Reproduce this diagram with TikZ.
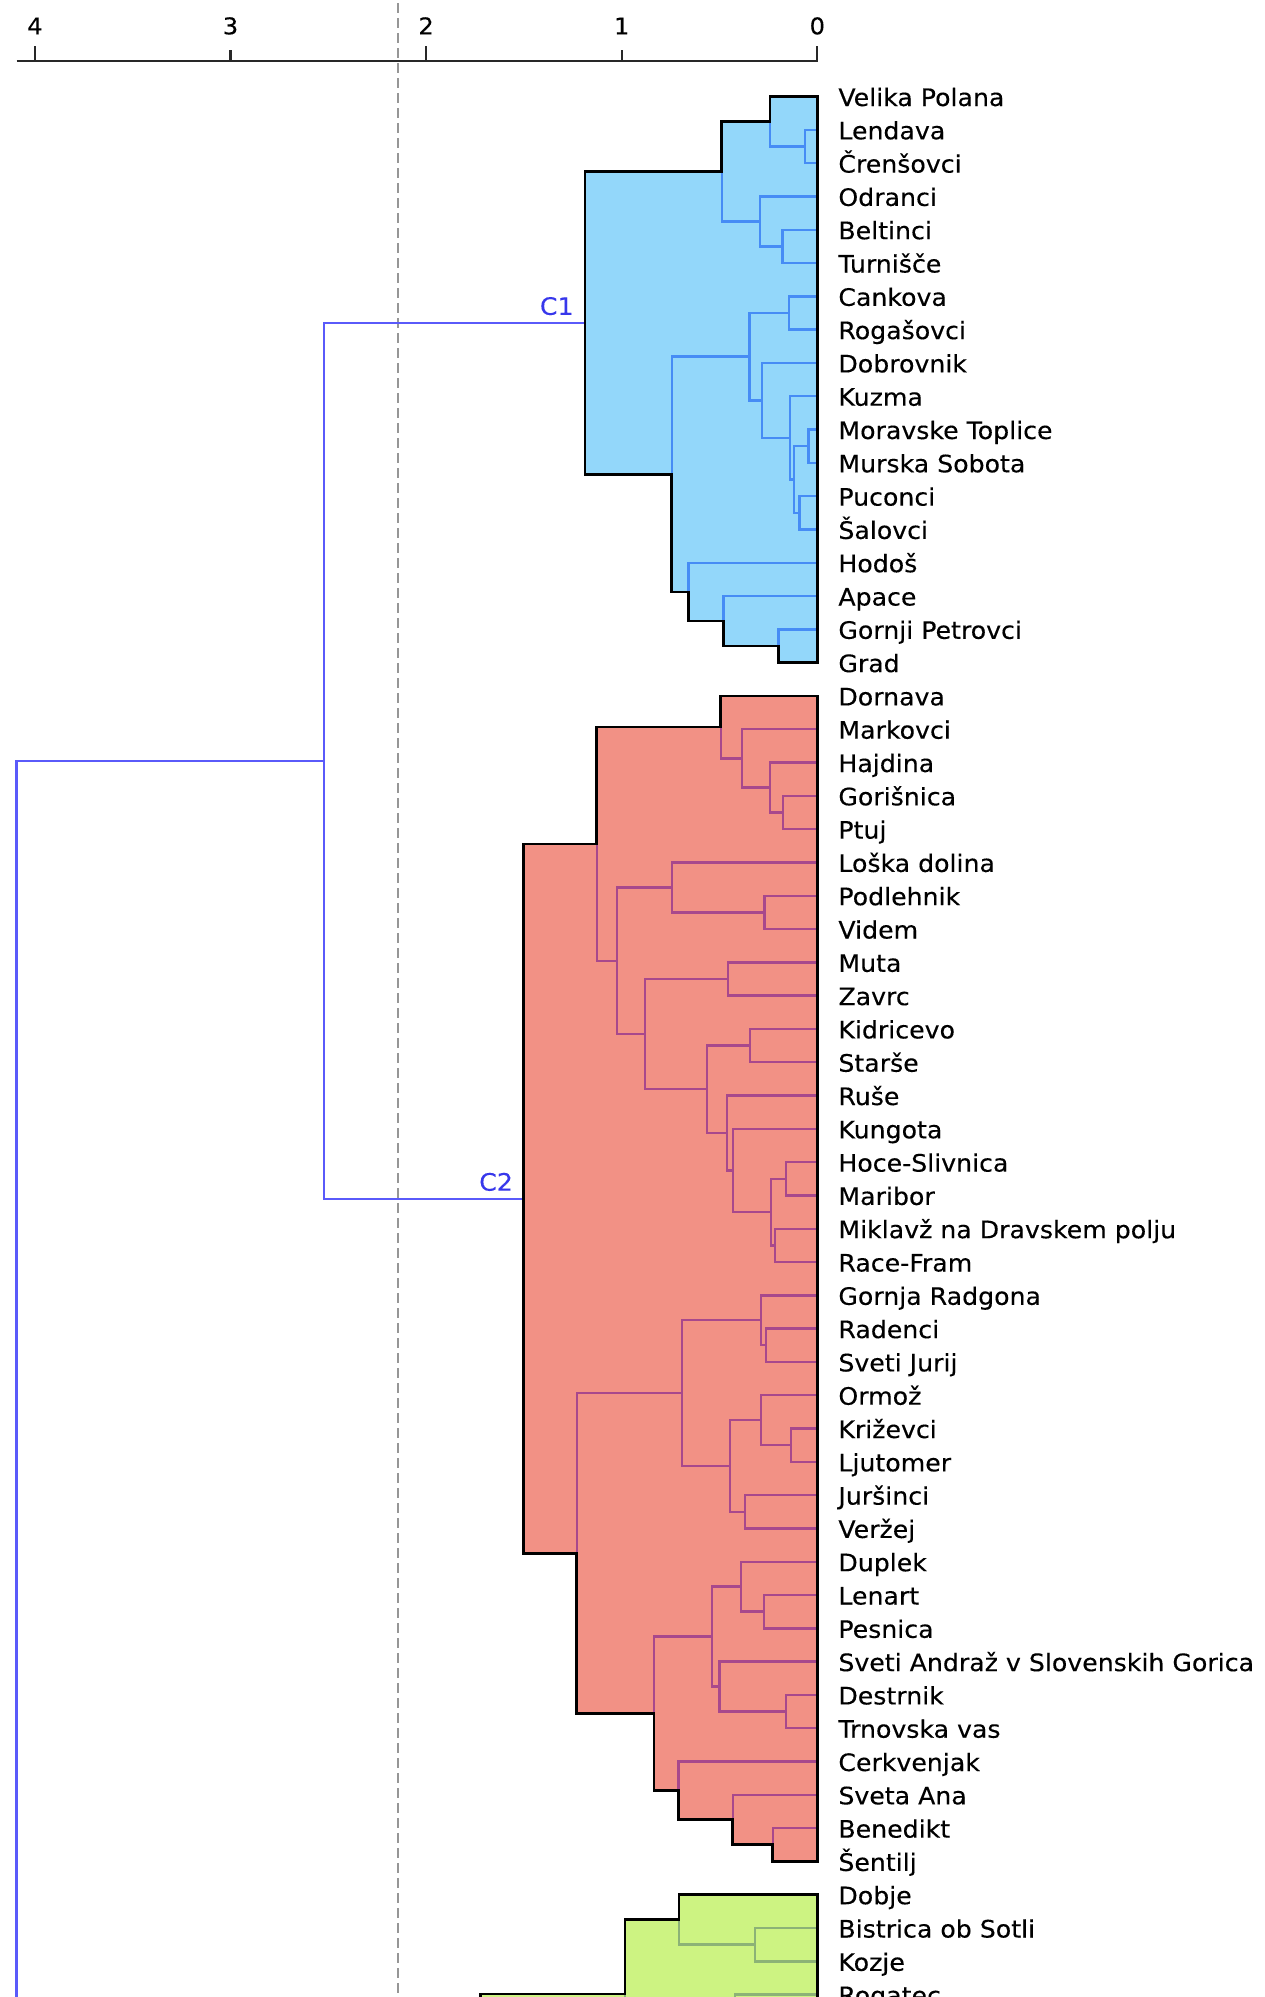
\documentclass[tikz,border=0pt]{standalone}
\usepackage{fontspec}
\setmainfont{DejaVu Sans}[FakeStretch=1.05,FakeBold=0.25]
\usetikzlibrary{calc}
\pgfdeclarelayer{bg}\pgfdeclarelayer{fg}
\pgfsetlayers{bg,main,fg}
\definecolor{bfill}{RGB}{147,215,250}
\definecolor{bline}{RGB}{70,140,245}
\definecolor{rfill}{RGB}{242,145,133}
\definecolor{rline}{RGB}{168,72,140}
\definecolor{gfill}{RGB}{205,243,130}
\definecolor{gline}{RGB}{140,178,118}
\definecolor{linkc}{RGB}{90,90,250}
\definecolor{labc}{RGB}{55,55,235}
\definecolor{axc}{RGB}{40,40,40}
\definecolor{dashc}{RGB}{150,150,150}
\newcommand\mrg[4]{%
  \coordinate (mtmp) at ($(#3)!.5!(#4)$);
  \coordinate (#1) at (#2,0 |- mtmp);
  \draw[lk] (#3) -| (#1) |- (#4);}
\begin{document}
\begin{tikzpicture}[x=0.5pt,y=-0.5pt,
  lk/.style={draw=bline,line width=1.2pt},
  ol/.style={draw=black,line width=1.3pt,line join=miter},
  lbl/.style={anchor=base west,inner sep=0pt,font=\fontsize{12}{14}\selectfont},
  axlbl/.style={anchor=base,inner sep=0pt,font=\fontsize{11.5}{13}\selectfont},
  clab/.style={anchor=base east,inner sep=0pt,text=labc,font=\fontsize{12}{14}\selectfont},
  axis/.style={draw=axc,line width=1.1pt},
  cut/.style={draw=dashc,line width=1.1pt,dash pattern=on 5pt off 2.5pt}]
\useasboundingbox (0,0) rectangle (1264,1997);
\clip (0,0) rectangle (1264,1997);

% axis
\coordinate (ax0) at (16.7,60.7);
\coordinate (ax1) at (817.5,60.7);
\draw[axis] (ax0) -- (ax1);
\foreach \d/\tl in {0/46,1/50,2/46,3/50,4/46}{
  \coordinate (tk\d) at ({817.3-195.6*\d},60.7);
  \coordinate (tt\d) at ({817.3-195.6*\d},\tl);
  \draw[axis] (tk\d) -- (tt\d);
  \node[axlbl] (al\d) at ({817.3-195.6*\d},34.3) {\d};
}
% cut line
\coordinate (dtop) at (398,3);
\coordinate (dbot) at (398,2000);
\draw[cut] (dtop) -- (dbot);

% leaves and labels
\foreach \i in {0,...,57}{\coordinate (L\i) at (817.5,{96.5+33.3*\i});}
\foreach \t [count=\i from 0] in {Velika Polana,Lendava,Črenšovci,Odranci,Beltinci,Turnišče,Cankova,Rogašovci,Dobrovnik,Kuzma,Moravske Toplice,Murska Sobota,Puconci,Šalovci,Hodoš,Apace,Gornji Petrovci,Grad,Dornava,Markovci,Hajdina,Gorišnica,Ptuj,Loška dolina,Podlehnik,Videm,Muta,Zavrc,Kidricevo,Starše,Ruše,Kungota,Hoce-Slivnica,Maribor,Miklavž na Dravskem polju,Race-Fram,Gornja Radgona,Radenci,Sveti Jurij,Ormož,Križevci,Ljutomer,Juršinci,Veržej,Duplek,Lenart,Pesnica,Sveti Andraž v Slovenskih Gorica,Destrnik,Trnovska vas,Cerkvenjak,Sveta Ana,Benedikt,Šentilj,Dobje,Bistrica ob Sotli,Kozje,Rogatec}{
  \node[lbl] (T\i) at (838,{96.5+33.3*\i+9.5}) {\t};
}

% ---- cluster C1 (blue)
\begin{scope}[lk/.style={draw=bline,line width=1.2pt}]
\mrg{A1b}{805}{L1}{L2}
\mrg{A1}{770}{L0}{A1b}
\mrg{A2b}{782.3}{L4}{L5}
\mrg{A2}{760}{L3}{A2b}
\mrg{A}{721.7}{A1}{A2}
\mrg{B1a}{788.7}{L6}{L7}
\mrg{B1e}{808.3}{L10}{L11}
\mrg{B1f}{799.3}{L12}{L13}
\mrg{B1d}{794}{B1e}{B1f}
\mrg{B1c}{790}{L9}{B1d}
\mrg{B1b}{761.7}{L8}{B1c}
\mrg{B1}{749.3}{B1a}{B1b}
\mrg{B2b}{778.3}{L16}{L17}
\mrg{B2a}{723.3}{L15}{B2b}
\mrg{B2}{688.3}{L14}{B2a}
\mrg{B}{671.7}{B1}{B2}
\mrg{C1r}{585}{A}{B}
\end{scope}
\begin{pgfonlayer}{bg}
\fill[bfill] (L0) -| (A1) -| (A) -| (C1r) |- (B) |- (B2) |- (B2a) |- (B2b) |- (L17) -- cycle;
\end{pgfonlayer}
\begin{pgfonlayer}{fg}
\draw[ol] (L0) -| (A1) -| (A) -| (C1r) |- (B) |- (B2) |- (B2a) |- (B2b) |- (L17) -- cycle;
\end{pgfonlayer}

% ---- cluster C2 (red)
\begin{scope}[lk/.style={draw=rline,line width=1.2pt}]
\mrg{R1a4}{782.7}{L21}{L22}
\mrg{R1a3}{770}{L20}{R1a4}
\mrg{R1a2}{741.7}{L19}{R1a3}
\mrg{R1a}{720.7}{L18}{R1a2}
\mrg{R1b1b}{764.3}{L24}{L25}
\mrg{R1b1}{671.7}{L23}{R1b1b}
\mrg{R1b2a}{727.7}{L26}{L27}
\mrg{R1b2b1}{750}{L28}{L29}
\mrg{R1b2b5}{786}{L32}{L33}
\mrg{R1b2b6}{775}{L34}{L35}
\mrg{R1b2b4}{770.7}{R1b2b5}{R1b2b6}
\mrg{R1b2b3}{732.7}{L31}{R1b2b4}
\mrg{R1b2b2}{726.7}{L30}{R1b2b3}
\mrg{R1b2b}{706.7}{R1b2b1}{R1b2b2}
\mrg{R1b2}{645}{R1b2a}{R1b2b}
\mrg{R1b}{616.7}{R1b1}{R1b2}
\mrg{R1}{596.7}{R1a}{R1b}
\mrg{R2a1b}{766}{L37}{L38}
\mrg{R2a1}{761}{L36}{R2a1b}
\mrg{R2a2c}{791}{L40}{L41}
\mrg{R2a2a}{761}{L39}{R2a2c}
\mrg{R2a2b}{745}{L42}{L43}
\mrg{R2a2}{730}{R2a2a}{R2a2b}
\mrg{R2a}{681.7}{R2a1}{R2a2}
\mrg{R2b1c}{764}{L45}{L46}
\mrg{R2b1a}{740.7}{L44}{R2b1c}
\mrg{R2b1d}{786}{L48}{L49}
\mrg{R2b1b}{719.3}{L47}{R2b1d}
\mrg{R2b1}{711.7}{R2b1a}{R2b1b}
\mrg{R2b2b}{772.7}{L52}{L53}
\mrg{R2b2a}{732.7}{L51}{R2b2b}
\mrg{R2b2}{678.3}{L50}{R2b2a}
\mrg{R2b}{654}{R2b1}{R2b2}
\mrg{R2}{576.7}{R2a}{R2b}
\mrg{C2r}{523.3}{R1}{R2}
\end{scope}
\begin{pgfonlayer}{bg}
\fill[rfill] (L18) -| (R1a) -| (R1) -| (C2r) |- (R2) |- (R2b) |- (R2b2) |- (R2b2a) |- (R2b2b) |- (L53) -- cycle;
\end{pgfonlayer}
\begin{pgfonlayer}{fg}
\draw[ol] (L18) -| (R1a) -| (R1) -| (C2r) |- (R2) |- (R2b) |- (R2b2) |- (R2b2a) |- (R2b2b) |- (L53) -- cycle;
\end{pgfonlayer}

% ---- third cluster (green, cut off)
\begin{scope}[lk/.style={draw=gline,line width=1.2pt}]
\mrg{G1b}{755}{L55}{L56}
\mrg{G1}{679}{L54}{G1b}
\coordinate (G2) at (700,2068.3);
\mrg{G}{625}{G1}{G2}
\coordinate (G3) at (735,2060);
\draw[lk] (L57) -| (G3);
\coordinate (Gp) at (480.5,2060);
\coordinate (Gbl) at (480.5,2100);
\coordinate (Gbr) at (817.5,2100);
\end{scope}
\begin{pgfonlayer}{bg}
\fill[gfill] (L54) -| (G1) -| (G) -| (Gp) -- (Gbl) -- (Gbr) -- cycle;
\end{pgfonlayer}
\begin{pgfonlayer}{fg}
\draw[ol] (L54) -| (G1) -| (G) -| (Gp) -- (Gbl) -- (Gbr) -- cycle;
\end{pgfonlayer}

% ---- links between clusters
\begin{scope}[lk/.style={draw=linkc,line width=1.1pt}]
\mrg{P}{323.6}{C1r}{C2r}
\coordinate (Qb) at (16.5,2010);
\draw[lk] (P) -| (Qb);
\end{scope}
\node[clab] (c1lab) at ($(C1r)+(-11,-8)$) {C1};
\node[clab] (c2lab) at ($(C2r)+(-10,-8)$) {C2};
\end{tikzpicture}
\end{document}
